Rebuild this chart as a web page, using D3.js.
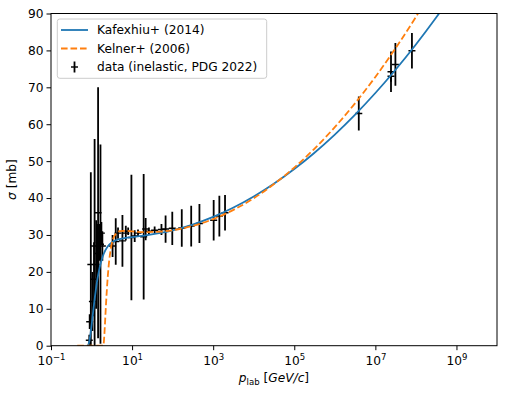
<!DOCTYPE html>
<html>
<head>
<meta charset="utf-8">
<script src="https://cdn.jsdelivr.net/npm/d3@7"></script>
<style>
  body { margin: 0; background: #fff; }
  text { font-family: "DejaVu Sans", sans-serif; }
</style>
</head>
<body>
<svg id="chart" width="506" height="396"></svg>
<script>
// Kafexhiu+ (2014) curve, p_lab [GeV/c] vs sigma [mb]
const kafexhiuP = [0.777, 0.8, 0.82, 0.85, 0.875, 0.9, 0.95, 1.0, 1.1, 1.2, 1.3, 1.4, 1.55, 1.7, 2, 2.5, 3, 4, 6, 10, 20, 50, 100, 300, 1e3, 3e3, 1e4, 3e4, 1e5, 3e5, 1e6, 3e6, 1e7, 3e7, 1e8, 3e8, 5e8]
const kafexhiuSigma = [0, 0.03, 0.14, 0.54, 1.07, 1.77, 3.49, 5.45, 9.40, 12.89, 15.78, 18.08, 20.69, 22.56, 24.92, 26.86, 27.77, 28.56, 29.08, 29.42, 29.83, 30.54, 31.27, 32.76, 34.89, 37.29, 40.42, 43.73, 47.86, 52.08, 57.20, 62.33, 68.46, 74.50, 81.61, 88.57, 91.95]

// Kelner+ (2006) curve
const kelnerP = [0.444, 1.943, 2, 2.1, 2.2, 2.3, 2.5, 2.7, 3, 3.5, 4, 5, 7, 10, 20, 50, 100, 300, 1e3, 3e3, 1e4, 3e4, 1e5, 3e5, 1e6, 3e6, 1e7, 3e7, 1e8, 2e8]
const kelnerSigma = [0, 0, 0.75, 4.15, 8.29, 12.2, 18.44, 22.65, 26.41, 29.27, 30.38, 31.04, 31.11, 30.97, 30.78, 30.90, 31.29, 32.39, 34.30, 36.67, 39.95, 43.59, 48.26, 53.15, 59.22, 65.37, 72.82, 80.25, 89.08, 94.5]

// data (inelastic, PDG 2022)
const dataP = [0.88, 0.90, 0.96, 1.05, 1.15, 1.19, 1.30, 1.40, 1.45, 1.55, 1.66, 1.75, 1.85, 3.3, 3.95, 4.5, 5.78, 7, 8, 9.62, 11.6, 14, 19.3, 21.6, 26, 36, 53, 67, 98, 168, 287, 458, 1028, 1420, 1960, 3.9e6, 2.43e7, 2.43e7, 3.12e7, 7.98e7]
const dataSigma = [1.5, 6.5, 22, 12, 18, 27, 22, 25, 36, 28, 27.5, 30.5, 27, 27, 28.2, 30.5, 28.4, 30.5, 31, 29.3, 29.7, 30.5, 29.5, 31.6, 31, 31.3, 31.5, 31.6, 31.8, 31.9, 32.4, 33.1, 34, 35.1, 36, 62.9, 74.2, 73.0, 76.2, 79.9]
const dataErr = [1.5, 2, 25, 8, 10, 29, 12, 8, 34, 5, 27, 3, 4, 3, 6.3, 1.5, 7, 2, 1, 17, 1.6, 1, 17, 3, 1, 1, 1.5, 3.7, 4.5, 5.1, 5.5, 5.3, 5.5, 5.5, 4.8, 4.6, 5.5, 1.5, 5.8, 4.8]

const xTicks = [1e-1, 1e1, 1e3, 1e5, 1e7, 1e9]
const xTickExp = ['\u22121', '1', '3', '5', '7', '9']
const yTicks = [0, 10, 20, 30, 40, 50, 60, 70, 80, 90]

const legendLabels = ['Kafexhiu+ (2014)', 'Kelner+ (2006)', 'data (inelastic, PDG 2022)']

const blue = '#1f77b4'
const orange = '#ff7f0e'
const fontSize = 12.2
const lw = 1.8
const dash = '6.6,2.9'

let svg = d3.select('#chart')
let margin = {left: 51, right: 497, top: 13.5, bottom: 345.7}

let x = d3.scaleLog().domain([1e-1, 1e10]).range([margin.left, margin.right])
let y = d3.scaleLinear().domain([0, 90]).range([margin.bottom, margin.top])

svg.append('defs').append('clipPath').attr('id', 'plotclip')
  .append('rect')
  .attr('x', margin.left).attr('y', margin.top)
  .attr('width', margin.right - margin.left)
  .attr('height', margin.bottom - margin.top)

let plot = svg.append('g').attr('clip-path', 'url(#plotclip)')

// error bars
let bars = plot.append('g')
dataP.forEach(function (p, i) {
  let s = dataSigma[i]
  let e = dataErr[i]
  bars.append('line')
    .attr('x1', x(p)).attr('x2', x(p))
    .attr('y1', y(s - e)).attr('y2', y(s + e))
    .attr('stroke', 'black').attr('stroke-width', lw)
  bars.append('line')
    .attr('x1', x(p) - 3.5).attr('x2', x(p) + 3.5)
    .attr('y1', y(s)).attr('y2', y(s))
    .attr('stroke', 'black').attr('stroke-width', lw * 0.8)
})

let line = d3.line()
  .x(d => x(d[0]))
  .y(d => y(d[1]))
  .curve(d3.curveMonotoneX)

plot.append('path')
  .attr('d', line(d3.zip(kafexhiuP, kafexhiuSigma)))
  .attr('fill', 'none')
  .attr('stroke', blue)
  .attr('stroke-width', lw)

plot.append('path')
  .attr('d', line(d3.zip(kelnerP, kelnerSigma)))
  .attr('fill', 'none')
  .attr('stroke', orange)
  .attr('stroke-width', lw)
  .attr('stroke-dasharray', dash)

// axes
let xAxis = svg.append('g')
  .attr('transform', 'translate(0,' + margin.bottom + ')')
  .call(d3.axisBottom(x).tickValues(xTicks).tickSize(4.5).tickSizeOuter(0).tickFormat(''))
xAxis.select('.domain').remove()
xAxis.selectAll('.tick line').attr('stroke-width', 1)
xAxis.selectAll('.tick').each(function (d, i) {
  let t = d3.select(this).append('text')
    .attr('y', 19.5)
    .attr('fill', 'black')
    .attr('text-anchor', 'middle')
    .style('font-size', fontSize + 'px')
  t.append('tspan').text('10')
  t.append('tspan').text(xTickExp[i])
    .attr('dy', -5.5)
    .style('font-size', (fontSize * 0.7) + 'px')
})

let yAxis = svg.append('g')
  .attr('transform', 'translate(' + margin.left + ',0)')
  .call(d3.axisLeft(y).tickValues(yTicks).tickSize(4.5).tickSizeOuter(0).tickPadding(3))
yAxis.select('.domain').remove()
yAxis.selectAll('.tick line').attr('stroke-width', 1)
yAxis.selectAll('.tick text')
  .attr('fill', 'black')
  .style('font-size', fontSize + 'px')
  .style('font-family', '"DejaVu Sans", sans-serif')

// frame
svg.append('rect')
  .attr('x', margin.left).attr('y', margin.top)
  .attr('width', margin.right - margin.left)
  .attr('height', margin.bottom - margin.top)
  .attr('fill', 'none')
  .attr('stroke', 'black')
  .attr('stroke-width', 1)

// axis labels
let xl = svg.append('text')
  .attr('x', (margin.left + margin.right) / 2)
  .attr('y', 382)
  .attr('text-anchor', 'middle')
  .style('font-size', fontSize + 'px')
xl.append('tspan').text('p').style('font-style', 'italic')
xl.append('tspan').text('lab').attr('dy', 2.5).style('font-size', (fontSize * 0.7) + 'px')
xl.append('tspan').text(' [').attr('dy', -2.5)
xl.append('tspan').text('GeV/c').style('font-style', 'italic')
xl.append('tspan').text(']')

let yl = svg.append('text')
  .attr('transform', 'translate(16,' + ((margin.top + margin.bottom) / 2) + ') rotate(-90)')
  .attr('text-anchor', 'middle')
  .style('font-size', fontSize + 'px')
yl.append('tspan').text('\u03c3').style('font-style', 'italic')
yl.append('tspan').text(' [mb]')

// legend
let legend = svg.append('g')
legend.append('rect')
  .attr('x', 57.3).attr('y', 19)
  .attr('width', 209.4).attr('height', 59.3)
  .attr('rx', 2.5)
  .attr('fill', 'white').attr('fill-opacity', 0.8)
  .attr('stroke', '#cccccc').attr('stroke-width', 1)

let rows = [30, 48.5, 67]
legend.append('line')
  .attr('x1', 61).attr('x2', 88).attr('y1', rows[0]).attr('y2', rows[0])
  .attr('stroke', blue).attr('stroke-width', lw)
legend.append('line')
  .attr('x1', 61).attr('x2', 88).attr('y1', rows[1]).attr('y2', rows[1])
  .attr('stroke', orange).attr('stroke-width', lw)
  .attr('stroke-dasharray', dash)
legend.append('line')
  .attr('x1', 74.5).attr('x2', 74.5).attr('y1', rows[2] - 5.5).attr('y2', rows[2] + 5.5)
  .attr('stroke', 'black').attr('stroke-width', lw)
legend.append('line')
  .attr('x1', 71).attr('x2', 78).attr('y1', rows[2]).attr('y2', rows[2])
  .attr('stroke', 'black').attr('stroke-width', lw * 0.8)

legendLabels.forEach(function (label, i) {
  legend.append('text')
    .attr('x', 97)
    .attr('y', rows[i] + 4.4)
    .style('font-size', fontSize + 'px')
    .text(label)
})
</script>
</body>
</html>
